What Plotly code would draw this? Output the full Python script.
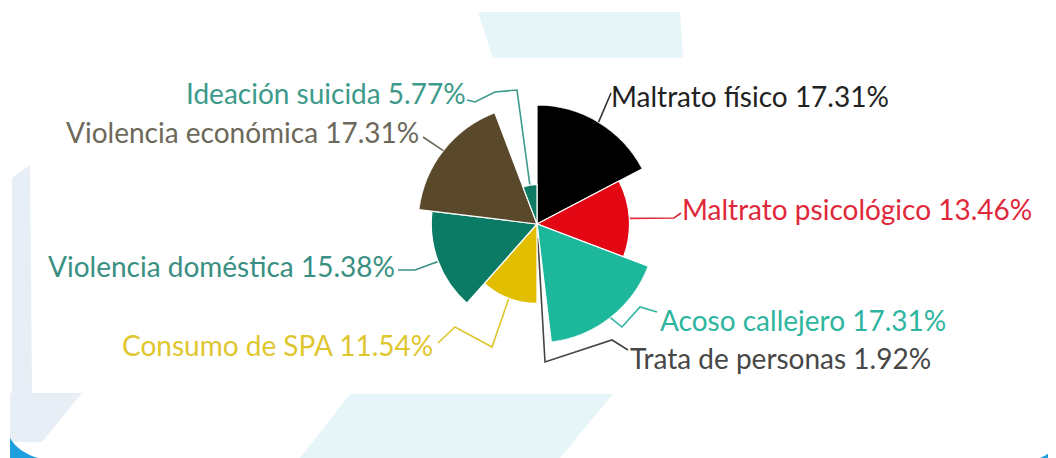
import numpy as np
import plotly.graph_objects as go

# ---------------- data ----------------
categories = ["Maltrato físico", "Maltrato psicológico", "Acoso callejero",
              "Trata de personas", "Consumo de SPA", "Violencia doméstica",
              "Violencia económica", "Ideación suicida"]
values = [17.31, 13.46, 17.31, 1.92, 11.54, 15.38, 17.31, 5.77]

# ---------------- styling ----------------
slice_colors = ["#000000", "#e30613", "#1db79b", "#5a5a5a",
                "#e1be00", "#0b7b66", "#5a482b", "#0f7a63"]
label_colors = ["#222222", "#e0283a", "#2eb5a0", "#474747",
                "#e0c62e", "#3a8f83", "#6c685a", "#3d9a8b"]
line_colors = ["#333333", "#e0283a", "#2eb5a0", "#444444",
               "#e0c62e", "#3a8f83", "#6c685a", "#3d9a8b"]

OFF = 8                     # page body margin
WIN_W, WIN_H = 1056, 458
W, H = WIN_W - OFF, WIN_H - OFF
cx, cy, R = 537, 224, 119   # pie centre and max radius (window px)

# label anchor (x, y, xanchor) and leader-line bend points, in window px
label_pos = [
    (609, 96, "left"),
    (680, 209, "left"),
    (658, 320, "left"),
    (628, 358, "left"),
    (435, 345, "right"),
    (397, 266, "right"),
    (421, 132, "right"),
    (468, 93, "right"),
]
leader_bends = [
    [(611, 93)],
    [(674, 218), (681, 213)],
    [(622, 327), (640, 307), (657, 312)],
    [(545, 362), (612, 340), (628, 350)],
    [(492, 347), (455, 327), (438, 343)],
    [(415, 270), (398, 270)],
    [(423, 137)],
    [(517, 90), (495, 92), (475, 102), (467, 100)],
]

total = sum(values)
widths = [v / total * 360 for v in values]
theta = list(np.cumsum(widths) - np.array(widths) / 2)
vmax = max(values)

fig = go.Figure()

fig.add_trace(go.Barpolar(
    r=values, theta=theta, width=widths,
    marker=dict(color=slice_colors, line=dict(color="white", width=1.2)),
    hoverinfo="skip", showlegend=False,
))

# leader lines on an overlay pixel axis
for i, (v, th) in enumerate(zip(values, theta)):
    rp = v / vmax * R
    t = np.deg2rad(th)
    sx, sy = cx + rp * np.sin(t), cy - rp * np.cos(t)
    xs = [sx] + [p[0] for p in leader_bends[i]]
    ys = [sy] + [p[1] for p in leader_bends[i]]
    fig.add_trace(go.Scatter(x=xs, y=ys, mode="lines",
                             line=dict(color=line_colors[i], width=1.6),
                             hoverinfo="skip", showlegend=False))

annotations = []
for i, c in enumerate(categories):
    x, y, anc = label_pos[i]
    annotations.append(dict(
        x=x, y=y, xref="x", yref="y", xanchor=anc, yanchor="middle",
        text=f"{c} {values[i]:.2f}%", showarrow=False,
        font=dict(family="Lato", size=28, color=label_colors[i]),
    ))

shapes = [
    dict(type="path", path="M478,12 L680,12 L683,58 L493,58 Z",
         xref="x", yref="y", fillcolor="#e6f6f8", line=dict(width=0), layer="below"),
    dict(type="path", path="M350,394 L613,394 L560,458 L300,458 Z",
         xref="x", yref="y", fillcolor="#e6f6f8", line=dict(width=0), layer="below"),
    dict(type="path", path="M12,178 L30,165 L32,393 L12,393 Z",
         xref="x", yref="y", fillcolor="#e8eef6", line=dict(width=0), layer="below"),
    dict(type="path", path="M10,393 L82,393 L42,442 L10,442 Z",
         xref="x", yref="y", fillcolor="#e8eef6", line=dict(width=0), layer="below"),
    dict(type="path", path="M10,438 Q18,452 38,458 L10,458 Z",
         xref="x", yref="y", fillcolor="#1d9fe0", line=dict(width=0), layer="below"),
    dict(type="path", path="M1056,446 Q1050,454 1040,458 L1056,458 Z",
         xref="x", yref="y", fillcolor="#1d9fe0", line=dict(width=0), layer="below"),
]

fig.update_layout(
    width=W, height=H,
    margin=dict(l=0, r=0, t=0, b=0),
    paper_bgcolor="white", plot_bgcolor="rgba(0,0,0,0)",
    showlegend=False,
    polar=dict(
        domain=dict(x=[(cx - R - OFF) / W, (cx + R - OFF) / W],
                    y=[(WIN_H - cy - R) / H, (WIN_H - cy + R) / H]),
        bgcolor="rgba(0,0,0,0)",
        angularaxis=dict(rotation=90, direction="clockwise", visible=False,
                         showgrid=False, showline=False, ticks=""),
        radialaxis=dict(range=[0, vmax], visible=False, showgrid=False),
    ),
    xaxis=dict(range=[OFF, OFF + W], visible=False, fixedrange=True, domain=[0, 1]),
    yaxis=dict(range=[OFF + H, OFF], visible=False, fixedrange=True, domain=[0, 1]),
    annotations=annotations,
    shapes=shapes,
)

fig.write_html("out.html")
